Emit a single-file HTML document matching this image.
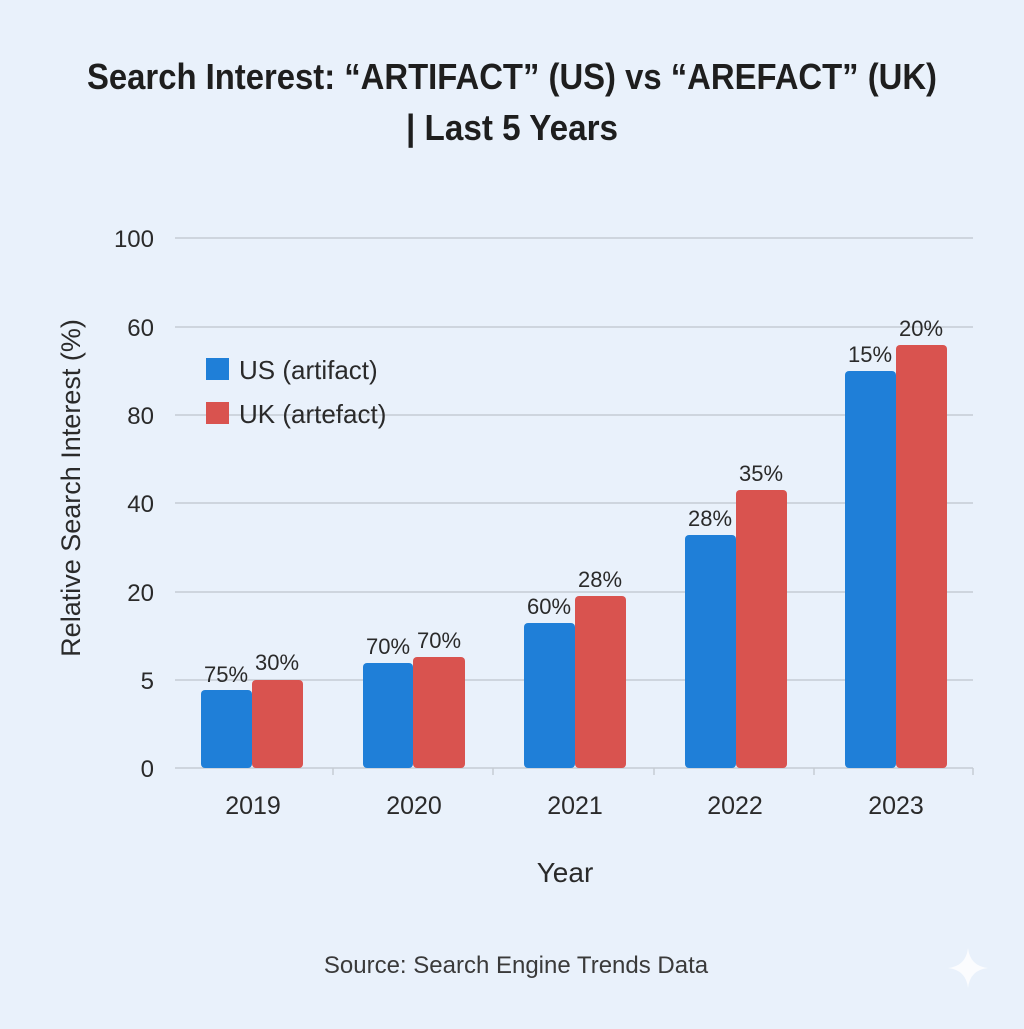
<!DOCTYPE html>
<html><head><style>html,body{margin:0;padding:0;background:#e9f1fb}</style></head><body>
<svg width="1024" height="1024" xmlns="http://www.w3.org/2000/svg" font-family="Liberation Sans, DejaVu Sans, sans-serif">
<rect width="1024" height="1024" fill="#e9f1fb"/>
<text x="512" y="89" text-anchor="middle" font-size="36" font-weight="bold" fill="#1e1e1e" textLength="850" lengthAdjust="spacingAndGlyphs">Search Interest: “ARTIFACT” (US) vs “AREFACT” (UK)</text>
<text x="512" y="140" text-anchor="middle" font-size="36" font-weight="bold" fill="#1e1e1e" textLength="212" lengthAdjust="spacingAndGlyphs">| Last 5 Years</text>
<g stroke="#c6ccd4" stroke-width="1.5">
<line x1="175" y1="238" x2="973" y2="238"/><line x1="175" y1="327" x2="973" y2="327"/>
<line x1="175" y1="415" x2="973" y2="415"/><line x1="175" y1="503" x2="973" y2="503"/>
<line x1="175" y1="592" x2="973" y2="592"/><line x1="175" y1="680" x2="973" y2="680"/>
<line x1="175" y1="768" x2="973" y2="768"/>
<line x1="333" y1="768" x2="333" y2="775"/><line x1="493" y1="768" x2="493" y2="775"/><line x1="654" y1="768" x2="654" y2="775"/><line x1="814" y1="768" x2="814" y2="775"/><line x1="973" y1="768" x2="973" y2="775"/>
</g>
<g font-size="24" fill="#2a2a2a" text-anchor="end">
<text x="154" y="247">100</text><text x="154" y="336">60</text><text x="154" y="424">80</text>
<text x="154" y="512">40</text><text x="154" y="601">20</text><text x="154" y="689">5</text><text x="154" y="777">0</text>
</g>
<text transform="translate(80,488) rotate(-90)" text-anchor="middle" font-size="27" fill="#2a2a2a">Relative Search Interest (%)</text>
<g fill="#1f7fd8">
<rect x="201" y="690" width="51" height="78" rx="4"/><rect x="363" y="663" width="50" height="105" rx="4"/>
<rect x="524" y="623" width="51" height="145" rx="4"/><rect x="685" y="535" width="51" height="233" rx="4"/>
<rect x="845" y="371" width="51" height="397" rx="4"/>
</g>
<g fill="#d9534f">
<rect x="252" y="680" width="51" height="88" rx="4"/><rect x="413" y="657" width="52" height="111" rx="4"/>
<rect x="575" y="596" width="51" height="172" rx="4"/><rect x="736" y="490" width="51" height="278" rx="4"/>
<rect x="896" y="345" width="51" height="423" rx="4"/>
</g>
<g font-size="22" fill="#2a2a2a" text-anchor="middle">
<text x="226" y="682">75%</text><text x="277" y="670">30%</text>
<text x="388" y="654">70%</text><text x="439" y="648">70%</text>
<text x="549" y="614">60%</text><text x="600" y="587">28%</text>
<text x="710" y="526">28%</text><text x="761" y="481">35%</text>
<text x="870" y="362">15%</text><text x="921" y="336">20%</text>
</g>
<rect x="206" y="358" width="23" height="22" fill="#1f7fd8"/>
<rect x="206" y="402" width="23" height="22" fill="#d9534f"/>
<text x="239" y="379" font-size="26" fill="#2a2a2a">US (artifact)</text>
<text x="239" y="423" font-size="26" fill="#2a2a2a">UK (artefact)</text>
<g font-size="25" fill="#2a2a2a" text-anchor="middle">
<text x="253" y="814">2019</text><text x="414" y="814">2020</text><text x="575" y="814">2021</text><text x="735" y="814">2022</text><text x="896" y="814">2023</text>
</g>
<text x="565" y="882" text-anchor="middle" font-size="28" fill="#2a2a2a">Year</text>
<text x="516" y="973" text-anchor="middle" font-size="24" fill="#3a3a3a">Source: Search Engine Trends Data</text>
<path d="M968 948 Q970 966 988 968 Q970 970 968 988 Q966 970 948 968 Q966 966 968 948Z" fill="#ffffff" opacity="0.8"/>
</svg>
</body></html>
